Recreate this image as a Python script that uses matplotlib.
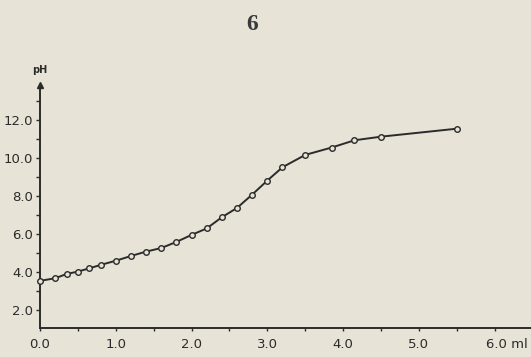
import numpy as np
import matplotlib.pyplot as plt
import matplotlib.transforms as mtransforms

# titration curve
ml = [0.0, 0.2, 0.35, 0.5, 0.65, 0.8, 1.0, 1.2, 1.4, 1.6, 1.8, 2.0,
      2.2, 2.4, 2.6, 2.8, 3.0, 3.2, 3.5, 3.85, 4.15, 4.5, 5.5]
ph = [3.53, 3.67, 3.89, 4.02, 4.19, 4.37, 4.59, 4.84, 5.07, 5.26, 5.58, 5.95,
      6.29, 6.88, 7.37, 8.07, 8.81, 9.51, 10.16, 10.55, 10.93, 11.12, 11.54]

x_ticks = [0, 1, 2, 3, 4, 5, 6]
x_labels = ['0.0', '1.0', '2.0', '3.0', '4.0', '5.0', '6.0 ml']
y_ticks = [2, 4, 6, 8, 10, 12]
y_labels = ['2.0', '4.0', '6.0', '8.0', '10.0', '12.0']

paper = '#e7e3d7'
ink = '#2b2b2b'

fig = plt.figure(figsize=(5.31, 3.57), dpi=100, facecolor=paper)
ax = fig.add_axes([40/531, 29/357, 491/531, 243/357])
ax.set_facecolor(paper)

ax.plot(ml, ph, color=ink, lw=1.4, marker='o', ms=4.0, mfc=paper,
        mec=ink, mew=1.0, clip_on=False, zorder=3)

ax.set_xlim(0, 6.48)
ax.set_ylim(1.05, 13.84)

for s in ['top', 'right']:
    ax.spines[s].set_visible(False)
for s in ['left', 'bottom']:
    ax.spines[s].set_color(ink)
    ax.spines[s].set_linewidth(1.4)

# arrow head on the pH axis
ax.plot([0], [13.84], marker='^', ms=5, color=ink, clip_on=False)

ax.set_xticks(x_ticks)
ax.set_xticklabels(x_labels)
ax.set_xticks(np.arange(0.5, 6.5, 1.0), minor=True)
ax.set_yticks(y_ticks)
ax.set_yticklabels(y_labels)
ax.set_yticks(np.arange(3, 14, 2), minor=True)

ax.tick_params(axis='both', which='both', colors=ink, width=1.0,
               labelsize=9.5, labelcolor=ink)
ax.tick_params(axis='x', which='both', direction='out', length=2.5, pad=5)
ax.tick_params(axis='y', which='both', direction='out', length=3, pad=2)

# last label "6.0 ml" starts just left of its tick
last = ax.get_xticklabels()[-1]
last.set_horizontalalignment('left')
last.set_transform(last.get_transform() +
                   mtransforms.ScaledTranslation(-0.09, 0, fig.dpi_scale_trans))

fig.text(40/531, 1 - 70/357, 'pH', ha='center', va='center', fontsize=7,
         color=ink, fontweight='bold')
fig.text(252/531, 1 - 25/357, '6', ha='center', va='center', fontsize=17,
         family='Liberation Serif', fontweight='bold', color='#3a3a3a')

fig.savefig('out.png', dpi=100, facecolor=paper)
